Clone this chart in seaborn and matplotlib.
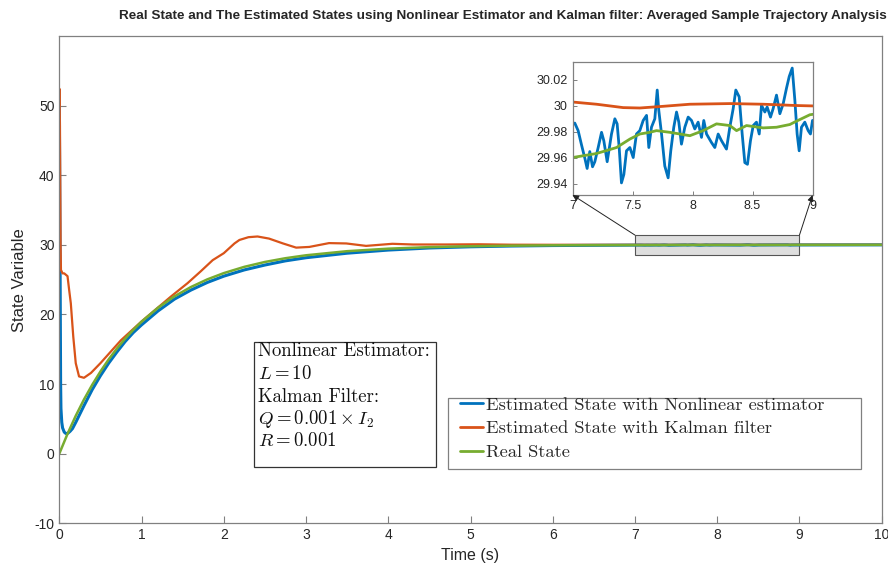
import numpy as np
import pandas as pd
import matplotlib
matplotlib.use("Agg")
import matplotlib.pyplot as plt
import seaborn as sns
from matplotlib.patches import Rectangle, ConnectionPatch

# ---------------- data ----------------
t_real = [0, 0.1, 0.2, 0.3, 0.4, 0.5, 0.6, 0.7, 0.8, 0.9, 1.0, 1.2, 1.4, 1.6, 1.8,
          2.0, 2.25, 2.5, 2.75, 3.0, 3.5, 4.0, 4.5, 5.0, 5.5, 6.0, 6.5,
          7.0, 7.2, 7.367, 7.478, 7.561, 7.644, 7.7, 7.811, 7.894, 7.978, 8.089,
          8.2, 8.311, 8.367, 8.45, 8.589, 8.7, 8.811, 8.867, 8.978, 9.0,
          9.25, 9.5, 9.75, 10.0]
y_real = [0, 2.85, 5.44, 7.78, 9.89, 11.8, 13.54, 15.1, 16.52, 17.8, 18.96, 20.96, 22.6,
          23.94, 25.04, 25.94, 26.84, 27.54, 28.08, 28.5, 29.09, 29.45, 29.67, 29.8,
          29.88, 29.93, 29.95,
          29.9603, 29.9634, 29.968, 29.9745, 29.9784, 29.9797, 29.981, 29.9797, 29.9784,
          29.9771, 29.981, 29.9862, 29.9849, 29.981, 29.9849, 29.9831, 29.9836, 29.9857,
          29.9883, 29.9932, 29.9935,
          29.995, 29.997, 29.999, 30.0]

t_nl = [0, 0.004, 0.008, 0.012, 0.016, 0.02, 0.03, 0.04, 0.06, 0.08, 0.1, 0.13, 0.16,
        0.2, 0.25, 0.3, 0.4, 0.5, 0.6, 0.7, 0.8, 0.9, 1.0, 1.2, 1.4, 1.6, 1.8, 2.0,
        2.25, 2.5, 2.75, 3.0, 3.5, 4.0, 4.5, 5.0, 5.5, 6.0, 6.5, 6.7, 6.85,
        7.0, 7.019, 7.047, 7.075, 7.103, 7.122, 7.144, 7.167, 7.186, 7.214, 7.242,
        7.261, 7.289, 7.325, 7.353, 7.372, 7.389, 7.408, 7.428, 7.45, 7.478, 7.506,
        7.533, 7.561, 7.589, 7.617, 7.636, 7.658, 7.686, 7.706, 7.719, 7.742, 7.769,
        7.797, 7.819, 7.844, 7.867, 7.886, 7.908, 7.936, 7.964, 7.992, 8.019, 8.047,
        8.075, 8.094, 8.117, 8.158, 8.186, 8.214, 8.242, 8.283, 8.311, 8.339, 8.361,
        8.389, 8.414, 8.436, 8.458, 8.483, 8.506, 8.533, 8.556, 8.575, 8.603, 8.622,
        8.65, 8.672, 8.7, 8.728, 8.756, 8.783, 8.806, 8.831, 8.853, 8.872, 8.889,
        8.908, 8.936, 8.964, 8.983, 9.0,
        9.1, 9.25, 9.4, 9.55, 9.7, 9.85, 10.0]
y_nl = [50, 42, 30, 18, 10, 6.5, 4.5, 3.7, 3.1, 2.9, 2.9, 3.2, 3.6,
        4.5, 5.7, 6.9, 9.2, 11.2, 13.0, 14.6, 16.1, 17.4, 18.5, 20.5, 22.2, 23.5,
        24.6, 25.5, 26.4, 27.1, 27.7, 28.15, 28.8, 29.25, 29.55, 29.72, 29.83, 29.9,
        29.94, 29.955, 29.97,
        29.9857, 29.9868, 29.981, 29.9701, 29.9597, 29.9519, 29.9649, 29.9532, 29.9571,
        29.968, 29.9797, 29.9732, 29.9571, 29.9784, 29.9901, 29.9862, 29.968, 29.9408,
        29.9473, 29.9655, 29.968, 29.9603, 29.9784, 29.981, 29.9888, 29.9927, 29.968,
        29.9836, 29.9901, 30.0122, 29.9966, 29.9784, 29.9538, 29.9447, 29.9655, 29.9836,
        29.9953, 29.9875, 29.9706, 29.9836, 29.9914, 29.9888, 29.9823, 29.9875, 29.9758,
        29.9888, 29.9784, 29.9719, 29.968, 29.9784, 29.9732, 29.9668, 29.9836, 29.9979,
        30.0122, 30.007, 29.9784, 29.9564, 29.9551, 29.9732, 29.9849, 29.9875, 29.9784,
        30.0005, 29.9953, 29.9992, 29.9914, 29.9979, 30.0083, 29.994, 30.0018, 30.0135,
        30.0226, 30.0291, 30.0044, 29.9784, 29.9655, 29.9836, 29.9875, 29.981, 29.9784,
        29.9888,
        29.99, 29.985, 30.0, 29.99, 30.005, 29.995, 30.0]

t_kf = [0, 0.003, 0.008, 0.012, 0.016, 0.02, 0.04, 0.06, 0.08, 0.1, 0.12, 0.14, 0.17,
        0.2, 0.24, 0.3, 0.385, 0.5, 0.75, 1.0, 1.16, 1.36, 1.56, 1.72, 1.865, 2.0, 2.13,
        2.19, 2.3, 2.41, 2.55, 2.72, 2.88, 3.04, 3.28, 3.49, 3.73, 4.05, 4.3, 4.7, 5.1,
        5.5, 6.0, 6.5, 7.0, 7.2, 7.422, 7.561, 7.756, 7.978, 8.311, 8.589, 8.867, 9.0,
        10.0]
y_kf = [50, 52.4, 47, 38, 30, 26.4, 25.9, 25.9, 25.7, 25.5, 23.5, 21.6, 16.8,
        13.0, 11.1, 10.9, 11.6, 13.0, 16.3, 19.0, 20.6, 22.6, 24.5, 26.2, 27.8, 28.8, 30.2,
        30.7, 31.1, 31.2, 30.9, 30.2, 29.6, 29.7, 30.25, 30.2, 29.85, 30.15, 30.05, 30.05,
        30.08, 30.02, 30.01, 30.005, 30.003, 30.0013, 29.9987, 29.9984, 29.9997, 30.0013,
        30.0018, 30.0013, 30.0003, 30.0, 30.0]

labels = ["Estimated State with Nonlinear estimator",
          "Estimated State with Kalman filter",
          "Real State"]
colors = ["#0072BD", "#D95319", "#77AC30"]

box_lines = [r"Nonlinear Estimator:", r"$L = 10$", r"Kalman Filter:",
             r"$Q = 0.001 \times I_2$", r"$R = 0.001$"]

# ---------------- style ----------------
sns.set_style("white")
plt.rcParams["font.family"] = ["Liberation Sans", "DejaVu Sans"]
plt.rcParams["mathtext.fontset"] = "cm"
plt.rcParams["axes.unicode_minus"] = False

W, H = 888, 567
fig = plt.figure(figsize=(W / 100, H / 100), dpi=100)
ax = fig.add_axes([59.3 / W, 1 - 523.3 / H, (881.7 - 59.3) / W, (523.3 - 36) / H])

df_nl = pd.DataFrame({"t": t_nl, "y": y_nl})
df_kf = pd.DataFrame({"t": t_kf, "y": y_kf})
df_re = pd.DataFrame({"t": t_real, "y": y_real})

sns.lineplot(data=df_nl, x="t", y="y", ax=ax, color=colors[0], linewidth=2.2, label=labels[0])
sns.lineplot(data=df_kf, x="t", y="y", ax=ax, color=colors[1], linewidth=1.6, label=labels[1])
sns.lineplot(data=df_re, x="t", y="y", ax=ax, color=colors[2], linewidth=1.8, label=labels[2])

ax.set_xlim(0, 10)
ax.set_ylim(-10, 60)
ax.set_xticks(range(0, 11))
ax.set_yticks(range(-10, 51, 10))
ax.tick_params(direction="in", length=5, width=0.8, colors="#808080", labelcolor="#262626",
               labelsize=10, left=True, bottom=True)
for s in ax.spines.values():
    s.set_color("#808080")
    s.set_linewidth(0.9)
ax.set_xlabel("Time (s)", fontsize=11.5, color="#262626", labelpad=4)
ax.set_ylabel("State Variable", fontsize=12, color="#262626", labelpad=5)

# zoom rectangle
ax.add_patch(Rectangle((7, 28.5), 2, 2.9, facecolor="#dedede", edgecolor="#555555",
                       linewidth=0.8, zorder=1))

handles, _ = ax.get_legend_handles_labels()
ax.get_legend().remove()

# legend: frame drawn separately to match the reference box
fig.add_artist(Rectangle((448 / W, 1 - 469.3 / H), (861 - 448) / W, (469.3 - 398.3) / H,
                         transform=fig.transFigure, facecolor="white",
                         edgecolor="#808080", linewidth=0.9, zorder=3))
leg = fig.legend(handles, labels, loc="upper left", bbox_to_anchor=(456 / W, 1 - 393 / H),
                 bbox_transform=fig.transFigure, prop={"family": "cmr10", "size": 13.3},
                 frameon=False, handlelength=1.25, handletextpad=0.15,
                 labelspacing=0.43, borderpad=0.2, borderaxespad=0)
leg.set_zorder(6)
for h in leg.get_lines():
    h.set_linewidth(2.0)

# text box
fig.add_artist(Rectangle((254 / W, 1 - 466.7 / H), (436 - 254) / W, (466.7 - 341.7) / H,
                         transform=fig.transFigure, facecolor="white",
                         edgecolor="#333333", linewidth=0.9, zorder=3))
ys = [351, 374, 397, 419, 441]
for line, yy in zip(box_lines, ys):
    kw = {} if line.startswith("$") else {"family": "cmr10"}
    fig.text(258 / W, 1 - yy / H, line, fontsize=13.5, va="center", ha="left",
             color="#111111", zorder=6, **kw)

# title
fig.text(503 / W, 1 - 16 / H,
         "Real State and The Estimated States using Nonlinear Estimator and Kalman filter: Averaged Sample Trajectory Analysis",
         ha="center", va="center", fontsize=9.7, fontweight="bold",
         family=["Liberation Sans", "DejaVu Sans"])

# inset
axi = fig.add_axes([572.5 / W, 1 - 195 / H, 240 / W, (195 - 61.7) / H])
sns.lineplot(data=df_nl, x="t", y="y", ax=axi, color=colors[0], linewidth=2.0, legend=False)
sns.lineplot(data=df_kf, x="t", y="y", ax=axi, color=colors[1], linewidth=2.0, legend=False)
sns.lineplot(data=df_re, x="t", y="y", ax=axi, color=colors[2], linewidth=2.0, legend=False)
axi.set_xlim(7, 9)
axi.set_ylim(29.9315, 30.034)
axi.set_xticks([7, 7.5, 8, 8.5, 9])
axi.set_xticklabels(["7", "7.5", "8", "8.5", "9"])
axi.set_yticks([29.94, 29.96, 29.98, 30.0, 30.02])
axi.set_yticklabels(["29.94", "29.96", "29.98", "30", "30.02"])
axi.tick_params(direction="in", length=3, width=0.7, colors="#808080", labelcolor="#262626",
                labelsize=9, left=True, bottom=True)
axi.set_xlabel("")
axi.set_ylabel("")
for s in axi.spines.values():
    s.set_color("#808080")
    s.set_linewidth(0.9)

# arrows from rectangle to inset
for xa, xb in [(7, 0), (9, 1)]:
    cp = ConnectionPatch(xyA=(xa, 31.4), coordsA=ax.transData, xyB=(xb, 0),
                         coordsB=axi.transAxes, arrowstyle="-|>", mutation_scale=9,
                         color="#222222", linewidth=0.7)
    fig.add_artist(cp)

fig.savefig("out.png", dpi=100)
